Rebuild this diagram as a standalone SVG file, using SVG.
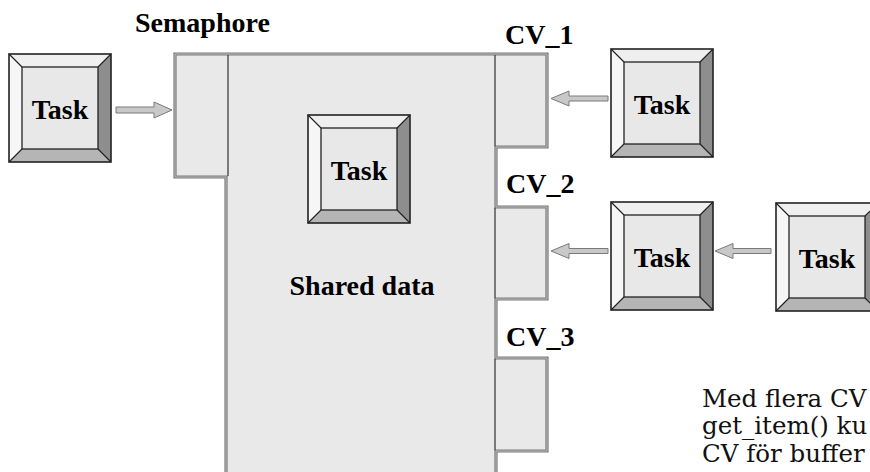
<svg xmlns="http://www.w3.org/2000/svg" xmlns:xlink="http://www.w3.org/1999/xlink" width="870" height="472" viewBox="0 0 870 472">
<style>
.lbl{font-family:'Liberation Serif',Tinos,'Times New Roman',Times,serif;font-weight:700;font-size:28px;fill:#000}
.tt{font-family:'Liberation Serif',Tinos,'Times New Roman',Times,serif;font-weight:700;font-size:28px;fill:#000;text-anchor:middle}
.note{font-family:'DejaVu Serif',serif;font-size:24.5px;fill:#111}
.arrow{fill:#c8c8c8;stroke:#7a7a7a;stroke-width:1}
.div{stroke:#333;stroke-width:1.2;fill:none}
</style>
<defs>
<g id="taskbox">
<polygon points="0,0 102,0 89,13 13,13" fill="#efefef"/>
<polygon points="0,0 13,13 13,95 0,108" fill="#f6f6f6"/>
<polygon points="102,0 102,108 89,95 89,13" fill="#8e8e8e"/>
<polygon points="0,108 13,95 89,95 102,108" fill="#b5b5b5"/>
<rect x="13" y="13" width="76" height="82" fill="#e8e8e8" stroke="#222" stroke-width="1.3"/>
<rect x="0" y="0" width="102" height="108" fill="none" stroke="#222" stroke-width="1.6"/>
<path d="M0,0L13,13M102,0L89,13M0,108L13,95M102,108L89,95" stroke="#222" stroke-width="1.2"/>
</g>
</defs>
<g id="shared-data">
<path d="M175,54 H547 V147 H496 V207 H547 V299 H496 V358 H547 V451 H496 V476 H226 V177 H175 Z" fill="#e9e9e9" stroke="#7a7a7a" stroke-width="3.2"/>
<path d="M175,54 H547 V147 H496 V207 H547 V299 H496 V358 H547 V451 H496 V476 H226 V177 H175 Z" fill="none" stroke="#bdbdbd" stroke-width="1"/>
<path class="div" d="M228,55 V176 M495,55 V146 M495,208 V298 M495,359 V450"/>
<text class="tt" x="362" y="295" font-family="Liberation Serif, serif">Shared data</text>
</g>
<g id="labels">
<text class="lbl" x="135" y="32">Semaphore</text>
<text class="lbl" x="505" y="44">CV_1</text>
<text class="lbl" x="506" y="193">CV_2</text>
<text class="lbl" x="506" y="346">CV_3</text>
</g>
<g id="task-left"><use xlink:href="#taskbox" x="9" y="54"/><text class="tt" x="60" y="119">Task</text></g>
<g id="task-center"><use xlink:href="#taskbox" x="308" y="115"/><text class="tt" x="359" y="180">Task</text></g>
<g id="task-cv1"><use xlink:href="#taskbox" x="611" y="49"/><text class="tt" x="662" y="114">Task</text></g>
<g id="task-cv2"><use xlink:href="#taskbox" x="611" y="202"/><text class="tt" x="662" y="267">Task</text></g>
<g id="task-right"><use xlink:href="#taskbox" x="776" y="203"/><text class="tt" x="827" y="268">Task</text></g>
<g id="connectors">
<polygon class="arrow" points="116,107 154,107 154,102 172,110 154,118 154,113 116,113"/>
<polygon class="arrow" points="608,96 569,96 569,91 551,98.5 569,106 569,101 608,101"/>
<polygon class="arrow" points="608,248.5 569,248.5 569,243.5 551,251 569,258.5 569,253.5 608,253.5"/>
<polygon class="arrow" points="771,248.5 733,248.5 733,243.5 715,251 733,258.5 733,253.5 771,253.5"/>
</g>
<g id="note">
<text class="note" x="702" y="407">Med flera CV</text>
<text class="note" x="702" y="434">get_item() ku</text>
<text class="note" x="702" y="462">CV för buffer</text>
</g>
</svg>
